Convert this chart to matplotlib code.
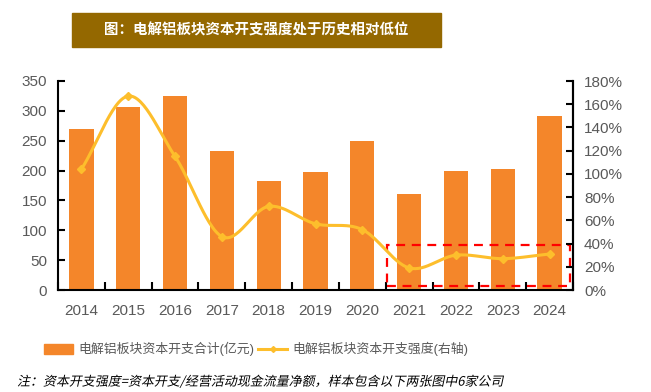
import numpy as np
import matplotlib
matplotlib.use("Agg")
import matplotlib.pyplot as plt
from matplotlib.patches import Rectangle
from matplotlib.lines import Line2D
from matplotlib.patheffects import AbstractPathEffect
from matplotlib.transforms import Affine2D

plt.rcParams['font.family'] = ['Liberation Sans', 'Noto Sans CJK SC', 'DejaVu Sans']

years = ['2014', '2015', '2016', '2017', '2018', '2019', '2020', '2021', '2022', '2023', '2024']
capex = [270, 307, 325, 233, 183, 198, 250, 160, 200, 203, 291]
intensity = [104, 167, 115, 46, 72, 57, 52, 19, 30, 27, 31]
left_ticks = [0, 50, 100, 150, 200, 250, 300, 350]
right_ticks = [0, 20, 40, 60, 80, 100, 120, 140, 160, 180]

title = '图：电解铝板块资本开支强度处于历史相对低位'
legend_bar = '电解铝板块资本开支合计(亿元)'
legend_line = '电解铝板块资本开支强度(右轴)'
note = '注：资本开支强度=资本开支/经营活动现金流量净额，样本包含以下两张图中6家公司'

BAR = '#F4862A'
LINE = '#FDBE2C'
GREY = '#595959'


class Oblique(AbstractPathEffect):
    def __init__(self, angle=12):
        super().__init__()
        self.angle = angle

    def draw_path(self, renderer, gc, tpath, affine, rgbFace=None):
        aff = Affine2D().skew_deg(self.angle, 0) + affine
        renderer.draw_path(gc, tpath, aff, rgbFace)


fig = plt.figure(figsize=(6.51, 3.92), dpi=100)
W, H = 651, 392
renderer = fig.canvas.get_renderer()


def fit_text(t, target_px):
    for _ in range(3):
        w = t.get_window_extent(renderer).width
        t.set_fontsize(t.get_fontsize() * target_px / w)


def px(xp, yp):
    return xp / W, 1 - yp / H


ax = fig.add_axes([58 / W, 1 - 290 / H, (573 - 58) / W, (290 - 81) / H])
ax2 = ax.twinx()

x = np.arange(len(years))
ax.bar(x, capex, width=0.52, color=BAR, zorder=2)
ax.set_xlim(-0.5, len(years) - 0.5)
ax.set_ylim(0, 350)
ax.set_yticks(left_ticks)
ax.set_xticks(x)
ax.set_xticklabels(years)
ax.set_xticks(np.arange(-0.5, len(years), 1.0), minor=True)


def catmull(xs, ys, n=30):
    pxs = np.concatenate([[2 * xs[0] - xs[1]], xs, [2 * xs[-1] - xs[-2]]])
    pys = np.concatenate([[2 * ys[0] - ys[1]], ys, [2 * ys[-1] - ys[-2]]])
    ox, oy = [], []
    for i in range(1, len(pxs) - 2):
        t = np.linspace(0, 1, n, endpoint=False)
        for arr, out in ((pxs, ox), (pys, oy)):
            p0, p1, p2, p3 = arr[i - 1], arr[i], arr[i + 1], arr[i + 2]
            out.extend(0.5 * ((2 * p1) + (-p0 + p2) * t + (2 * p0 - 5 * p1 + 4 * p2 - p3) * t ** 2
                              + (-p0 + 3 * p1 - 3 * p2 + p3) * t ** 3))
    ox.append(xs[-1]); oy.append(ys[-1])
    return np.array(ox), np.array(oy)


sx, sy = catmull(x.astype(float), np.array(intensity, dtype=float))
ax2.plot(sx, sy, color=LINE, lw=2.2, zorder=3, solid_capstyle='round')
ax2.plot(x, intensity, linestyle='none', marker='D', ms=4, color=LINE, zorder=4)
ax2.set_ylim(0, 180)
ax2.set_yticks(right_ticks)
ax2.set_yticklabels([f'{v}%' for v in right_ticks])

for a in (ax, ax2):
    a.spines['top'].set_visible(False)
    for s in ('left', 'right', 'bottom'):
        a.spines[s].set_linewidth(1.5)
        a.spines[s].set_color('black')
ax2.spines['left'].set_visible(False)
ax2.spines['bottom'].set_visible(False)

ax.tick_params(axis='y', direction='in', length=5, width=1.5, labelsize=11, labelcolor=GREY, pad=8)
ax2.tick_params(axis='y', direction='in', length=5, width=1.5, labelsize=11, labelcolor=GREY, pad=8)
ax.tick_params(axis='x', which='major', length=0, labelsize=11, labelcolor=GREY, pad=10)
ax.tick_params(axis='x', which='minor', direction='in', length=6, width=1.5)

ax.add_patch(Rectangle((6.52, 7), 10.44 - 6.52, 75 - 7, fill=False, ec='#FF0000',
                       lw=1.6, ls=(0, (4, 3)), zorder=5, clip_on=False))

ax2.set_zorder(ax.get_zorder() + 1)
ax2.patch.set_visible(False)

# title banner
fig.patches.append(Rectangle(px(72, 47), (441 - 72) / W, 34 / H,
                             transform=fig.transFigure, color='#946800', zorder=0))
tt = fig.text(*px((104 + 409) / 2, 30), title, color='white', fontsize=11, fontweight='bold',
              ha='center', va='center', family=['Noto Sans CJK SC', 'DejaVu Sans'])
fit_text(tt, 305)

# manual legend
fig.patches.append(Rectangle(px(44, 354), 29 / W, 10 / H, transform=fig.transFigure,
                             color=BAR, zorder=3))
t1 = fig.text(*px(78, 349), legend_bar, color=GREY, fontsize=10, ha='left', va='center',
              family=['Liberation Sans', 'Noto Sans CJK SC'])
fit_text(t1, 176)
fig.add_artist(Line2D([258 / W, 287 / W], [1 - 349 / H] * 2, transform=fig.transFigure,
                      color=LINE, lw=2.2))
fig.add_artist(Line2D([272.5 / W], [1 - 349 / H], transform=fig.transFigure,
                      color=LINE, marker='D', ms=3, ls='none'))
t2 = fig.text(*px(292, 349), legend_line, color=GREY, fontsize=10, ha='left', va='center',
              family=['Liberation Sans', 'Noto Sans CJK SC'])
fit_text(t2, 176)

tn = fig.text(*px(17, 382), note, fontsize=9.4, color='black', ha='left', va='center',
              family=['Noto Sans CJK SC', 'DejaVu Sans'], path_effects=[Oblique(12)])
fit_text(tn, 488)

fig.savefig('out.png', dpi=100)
